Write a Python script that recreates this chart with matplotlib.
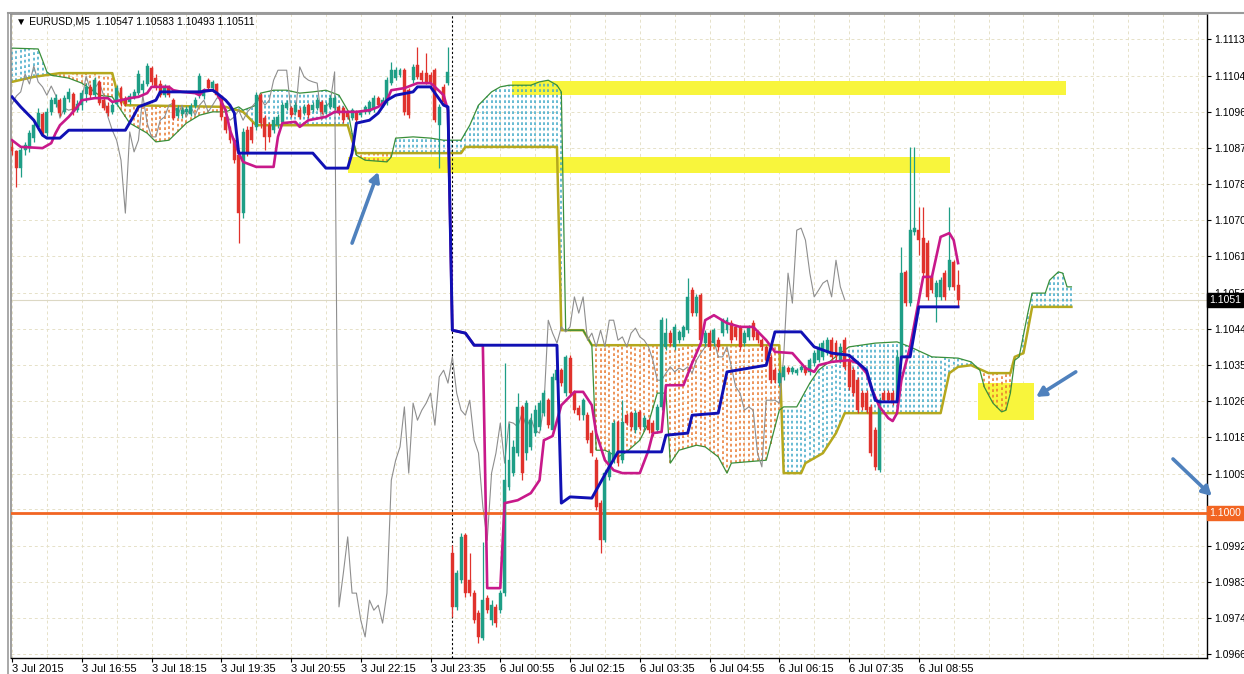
import numpy as np
import matplotlib.pyplot as plt
from matplotlib.patches import Rectangle
from matplotlib.lines import Line2D
from matplotlib.transforms import blended_transform_factory

plt.rcParams['font.family'] = ['Liberation Sans', 'DejaVu Sans']

# EURUSD M5 candles, bar 0 = 3 Jul 15:35 ... bar 217 = 6 Jul 09:40
opens = [1.10878, 1.10868, 1.10827, 1.10871, 1.10875, 1.10899, 1.10926, 1.10957, 1.10911, 1.10962,
         1.10981, 1.10990, 1.10962, 1.10993, 1.11005, 1.10966, 1.10978, 1.11005, 1.11022, 1.11002,
         1.11034, 1.10990, 1.10976, 1.10962, 1.10981, 1.11019, 1.10993, 1.10986, 1.10998, 1.11007,
         1.11014, 1.11029, 1.11067, 1.11043, 1.11029, 1.11002, 1.11022, 1.10990, 1.10952, 1.10957,
         1.10962, 1.10957, 1.10976, 1.11002, 1.11000, 1.11038, 1.11019, 1.11029, 1.11000, 1.10950,
         1.10923, 1.10894, 1.10858, 1.10719, 1.10918, 1.10926, 1.10926, 1.11002, 1.10947, 1.10930,
         1.10918, 1.10930, 1.10938, 1.10971, 1.10971, 1.10962, 1.10966, 1.10959, 1.10978, 1.10966,
         1.10971, 1.10986, 1.10962, 1.10974, 1.10971, 1.10974, 1.10971, 1.10962, 1.10947, 1.10962,
         1.10954, 1.10962, 1.10962, 1.10966, 1.10995, 1.10978, 1.10983, 1.11031, 1.11043, 1.11050,
         1.11062, 1.11014, 1.11038, 1.11074, 1.11055, 1.11055, 1.11050, 1.11062, 1.10930, 1.11022,
         1.11031,
         1.09903, 1.09774, 1.09838, 1.09946, 1.09838, 1.09807, 1.09759, 1.09699, 1.09795,
         1.09742, 1.09774, 1.09766, 1.09807, 1.10062, 1.10095, 1.10143, 1.10254, 1.10143, 1.10158,
         1.10191, 1.10206, 1.10239, 1.10270, 1.10198, 1.10318, 1.10342, 1.10287, 1.10371, 1.10287,
         1.10251, 1.10234, 1.10234, 1.10191, 1.10126, 1.10023, 1.09934, 1.10086, 1.10126, 1.10218,
         1.10126, 1.10234, 1.10239, 1.10198, 1.10242, 1.10206, 1.10222, 1.10215, 1.10198, 1.10254,
         1.10398, 1.10431, 1.10398, 1.10414, 1.10422, 1.10438, 1.10534, 1.10479, 1.10522, 1.10407,
         1.10431, 1.10407, 1.10414, 1.10431, 1.10438, 1.10455, 1.10446, 1.10443, 1.10407, 1.10422,
         1.10455, 1.10434, 1.10414, 1.10398, 1.10374, 1.10342, 1.10311, 1.10326, 1.10347, 1.10338,
         1.10335, 1.10342, 1.10350, 1.10338, 1.10359, 1.10366, 1.10374, 1.10383, 1.10414, 1.10407,
         1.10366, 1.10414, 1.10366, 1.10342, 1.10318, 1.10287, 1.10287, 1.10254, 1.10198, 1.10102,
         1.10287, 1.10287, 1.10287, 1.10263, 1.10374, 1.10578, 1.10503, 1.10674, 1.10678, 1.10659,
         1.10647, 1.10566, 1.10518, 1.10518, 1.10575, 1.10542, 1.10602, 1.10547]
closes = [1.10868, 1.10827, 1.10871, 1.10883, 1.10911, 1.10930, 1.10959, 1.10911, 1.10962, 1.10990,
          1.10995, 1.10959, 1.10995, 1.11010, 1.10962, 1.10981, 1.11007, 1.11022, 1.11002, 1.11038,
          1.10983, 1.10971, 1.10959, 1.10978, 1.11019, 1.10983, 1.10981, 1.11000, 1.11010, 1.11053,
          1.11029, 1.11072, 1.11034, 1.11022, 1.11002, 1.11024, 1.11002, 1.10947, 1.10971, 1.10966,
          1.10969, 1.10976, 1.10990, 1.11048, 1.11014, 1.11019, 1.11034, 1.11002, 1.10950, 1.10918,
          1.10894, 1.10846, 1.10719, 1.10914, 1.10866, 1.10894, 1.11002, 1.10935, 1.10902, 1.10902,
          1.10942, 1.10950, 1.10978, 1.10983, 1.10954, 1.10978, 1.10950, 1.10974, 1.10954, 1.10978,
          1.10990, 1.10962, 1.10978, 1.10995, 1.10995, 1.10959, 1.10942, 1.10950, 1.10966, 1.10942,
          1.10962, 1.10974, 1.10986, 1.10995, 1.10978, 1.10990, 1.11038, 1.11062, 1.11062, 1.11062,
          1.10962, 1.10954, 1.11070, 1.11046, 1.11038, 1.11034, 1.11031, 1.10942, 1.10974, 1.10986,
          1.11058,
          1.09774, 1.09855, 1.09942, 1.09807, 1.09807, 1.09742, 1.09702, 1.09790, 1.09766,
          1.09778, 1.09735, 1.09807, 1.10078, 1.10126, 1.10158, 1.10254, 1.10095, 1.10263, 1.10222,
          1.10246, 1.10263, 1.10287, 1.10210, 1.10326, 1.10342, 1.10311, 1.10374, 1.10287, 1.10246,
          1.10234, 1.10270, 1.10174, 1.10143, 1.10014, 1.09934, 1.10095, 1.10143, 1.10215, 1.10119,
          1.10218, 1.10215, 1.10206, 1.10239, 1.10206, 1.10227, 1.10198, 1.10191, 1.10254, 1.10462,
          1.10431, 1.10407, 1.10446, 1.10434, 1.10446, 1.10518, 1.10479, 1.10518, 1.10414, 1.10431,
          1.10398, 1.10438, 1.10398, 1.10462, 1.10462, 1.10414, 1.10422, 1.10398, 1.10431, 1.10443,
          1.10422, 1.10414, 1.10398, 1.10366, 1.10318, 1.10318, 1.10335, 1.10350, 1.10338, 1.10347,
          1.10342, 1.10350, 1.10335, 1.10366, 1.10383, 1.10398, 1.10407, 1.10414, 1.10374, 1.10374,
          1.10398, 1.10350, 1.10302, 1.10287, 1.10246, 1.10254, 1.10246, 1.10143, 1.10110, 1.10270,
          1.10270, 1.10270, 1.10263, 1.10374, 1.10575, 1.10503, 1.10678, 1.10683, 1.10654, 1.10575,
          1.10518, 1.10534, 1.10551, 1.10558, 1.10518, 1.10606, 1.10542, 1.10511]
highs = [1.10894, 1.10871, 1.10878, 1.10890, 1.10918, 1.10938, 1.10971, 1.10962, 1.10971, 1.10998,
         1.11005, 1.10995, 1.11002, 1.11019, 1.11010, 1.10990, 1.11014, 1.11031, 1.11029, 1.11046,
         1.11038, 1.10998, 1.10986, 1.10986, 1.11026, 1.11024, 1.11000, 1.11007, 1.11017, 1.11062,
         1.11038, 1.11079, 1.11072, 1.11052, 1.11038, 1.11029, 1.11026, 1.10995, 1.10978, 1.10974,
         1.10976, 1.10983, 1.10998, 1.11055, 1.11019, 1.11043, 1.11038, 1.11031, 1.11002, 1.10954,
         1.10928, 1.10899, 1.10871, 1.10923, 1.10928, 1.10938, 1.11010, 1.11007, 1.10954, 1.10938,
         1.10950, 1.10957, 1.10986, 1.10990, 1.10976, 1.10986, 1.10974, 1.10981, 1.10983, 1.10986,
         1.10998, 1.10990, 1.10986, 1.11002, 1.11000, 1.10978, 1.10976, 1.10966, 1.10971, 1.10966,
         1.10966, 1.10978, 1.10990, 1.11002, 1.11000, 1.10998, 1.11046, 1.11082, 1.11070, 1.11067,
         1.11067, 1.11019, 1.11077, 1.11118, 1.11062, 1.11103, 1.11058, 1.11067, 1.10981, 1.11029,
         1.11118,
         1.09922, 1.09862, 1.09951, 1.09951, 1.09903, 1.09814, 1.09766, 1.09930, 1.09802,
         1.09790, 1.09782, 1.09814, 1.10359, 1.10215, 1.10174, 1.10287, 1.10258, 1.10270, 1.10239,
         1.10258, 1.10270, 1.10294, 1.10275, 1.10335, 1.10350, 1.10347, 1.10378, 1.10378, 1.10294,
         1.10258, 1.10275, 1.10242, 1.10198, 1.10134, 1.10030, 1.10102, 1.10150, 1.10222, 1.10222,
         1.10270, 1.10239, 1.10244, 1.10246, 1.10246, 1.10234, 1.10227, 1.10222, 1.10261, 1.10470,
         1.10467, 1.10438, 1.10453, 1.10438, 1.10450, 1.10563, 1.10542, 1.10525, 1.10527, 1.10438,
         1.10438, 1.10443, 1.10422, 1.10467, 1.10470, 1.10462, 1.10450, 1.10450, 1.10438, 1.10450,
         1.10462, 1.10438, 1.10419, 1.10402, 1.10378, 1.10350, 1.10342, 1.10354, 1.10352, 1.10352,
         1.10347, 1.10354, 1.10354, 1.10371, 1.10390, 1.10407, 1.10414, 1.10422, 1.10422, 1.10414,
         1.10407, 1.10422, 1.10374, 1.10350, 1.10326, 1.10294, 1.10294, 1.10261, 1.10206, 1.10278,
         1.10294, 1.10294, 1.10294, 1.10390, 1.10638, 1.10582, 1.10878, 1.10878, 1.10734, 1.10734,
         1.10654, 1.10570, 1.10558, 1.10566, 1.10582, 1.10734, 1.10606, 1.10583]
lows = [1.10858, 1.10782, 1.10806, 1.10858, 1.10866, 1.10890, 1.10918, 1.10904, 1.10904, 1.10954,
        1.10974, 1.10952, 1.10957, 1.10986, 1.10954, 1.10962, 1.10966, 1.10986, 1.10995, 1.10998,
        1.10978, 1.10966, 1.10952, 1.10957, 1.10976, 1.10976, 1.10976, 1.10981, 1.10993, 1.11002,
        1.11005, 1.11024, 1.11026, 1.11014, 1.10998, 1.10998, 1.10998, 1.10942, 1.10947, 1.10947,
        1.10957, 1.10952, 1.10971, 1.10995, 1.10993, 1.11014, 1.11014, 1.10998, 1.10942, 1.10911,
        1.10887, 1.10839, 1.10647, 1.10707, 1.10856, 1.10887, 1.10918, 1.10923, 1.10871, 1.10890,
        1.10911, 1.10923, 1.10933, 1.10966, 1.10950, 1.10957, 1.10945, 1.10954, 1.10947, 1.10962,
        1.10966, 1.10957, 1.10957, 1.10969, 1.10966, 1.10954, 1.10935, 1.10945, 1.10942, 1.10938,
        1.10950, 1.10957, 1.10957, 1.10962, 1.10974, 1.10974, 1.10978, 1.11026, 1.11038, 1.11046,
        1.10954, 1.10947, 1.11031, 1.11041, 1.11034, 1.11029, 1.11026, 1.10938, 1.10827, 1.10981,
        1.11026,
        1.09750, 1.09766, 1.09831, 1.09798, 1.09800, 1.09735, 1.09687, 1.09694, 1.09759,
        1.09730, 1.09726, 1.09759, 1.09800, 1.10054, 1.10088, 1.10136, 1.10078, 1.10126, 1.10150,
        1.10184, 1.10198, 1.10232, 1.10203, 1.10191, 1.10311, 1.10304, 1.10280, 1.10280, 1.10239,
        1.10222, 1.10222, 1.10167, 1.10136, 1.10006, 1.09903, 1.09930, 1.10078, 1.10119, 1.10112,
        1.10119, 1.10210, 1.10198, 1.10191, 1.10198, 1.10198, 1.10191, 1.10184, 1.10191, 1.10246,
        1.10390, 1.10400, 1.10390, 1.10407, 1.10414, 1.10431, 1.10472, 1.10472, 1.10407, 1.10400,
        1.10390, 1.10400, 1.10390, 1.10424, 1.10431, 1.10407, 1.10414, 1.10390, 1.10400, 1.10414,
        1.10414, 1.10407, 1.10390, 1.10359, 1.10311, 1.10311, 1.10304, 1.10318, 1.10333, 1.10333,
        1.10330, 1.10338, 1.10330, 1.10330, 1.10352, 1.10362, 1.10366, 1.10378, 1.10366, 1.10366,
        1.10359, 1.10342, 1.10294, 1.10280, 1.10239, 1.10246, 1.10239, 1.10136, 1.10102, 1.10098,
        1.10266, 1.10266, 1.10258, 1.10256, 1.10366, 1.10496, 1.10496, 1.10666, 1.10618, 1.10568,
        1.10510, 1.10527, 1.10458, 1.10510, 1.10510, 1.10534, 1.10534, 1.10493]

# Ichimoku lines as (bar, price) points
tenkan_bar = [0, 2, 7, 9, 10, 11, 13, 15, 16, 19,
              22, 23, 25, 27, 29, 31, 32, 36, 37, 39,
              42, 43, 44, 46, 47, 49, 50, 52, 53, 56,
              60, 61, 62, 65, 66, 68, 72, 74, 79, 82,
              84, 86, 87, 90, 93, 96, 97, 99, 100, 101,
              104, 106, 108, 109, 112, 113, 116, 119, 121, 122,
              124, 126, 129, 131, 133, 134, 136, 138, 140, 144,
              146, 147, 149, 150, 154, 156, 158, 159, 161, 164,
              167, 170, 173, 175, 179, 182, 184, 185, 188, 192,
              194, 196, 197, 199, 201, 202, 203, 204, 206, 208,
              209, 211, 212, 213, 215, 216, 217]
tenkan_val = [1.10894, 1.10878, 1.10875, 1.10887, 1.10911, 1.10930, 1.10950, 1.10974, 1.10990, 1.10995,
              1.10995, 1.10986, 1.10990, 1.10995, 1.10998, 1.11007, 1.11022, 1.11022, 1.11014, 1.11010,
              1.11007, 1.11002, 1.11014, 1.11014, 1.11007, 1.10966, 1.10918, 1.10863, 1.10842, 1.10830,
              1.10830, 1.10902, 1.10935, 1.10938, 1.10926, 1.10942, 1.10950, 1.10962, 1.10962, 1.10966,
              1.10974, 1.10990, 1.11014, 1.11019, 1.11031, 1.11031, 1.11022, 1.11002, 1.10966, 1.10438,
              1.10431, 1.10402, 1.10402, 1.09819, 1.09819, 1.10023, 1.10030, 1.10047, 1.10078, 1.10174,
              1.10184, 1.10258, 1.10290, 1.10290, 1.10258, 1.10191, 1.10126, 1.10102, 1.10095, 1.10095,
              1.10150, 1.10191, 1.10194, 1.10306, 1.10306, 1.10359, 1.10407, 1.10462, 1.10474, 1.10455,
              1.10446, 1.10446, 1.10414, 1.10386, 1.10383, 1.10347, 1.10338, 1.10354, 1.10362, 1.10366,
              1.10359, 1.10335, 1.10302, 1.10254, 1.10227, 1.10220, 1.10239, 1.10318, 1.10398, 1.10510,
              1.10566, 1.10566, 1.10614, 1.10662, 1.10671, 1.10654, 1.10599]

kijun_bar = [0, 2, 5, 7, 8, 11, 13, 26, 28, 29,
             33, 34, 43, 46, 47, 49, 50, 51, 52, 69,
             71, 72, 77, 78, 79, 82, 84, 86, 88, 92,
             93, 96, 99, 100, 101, 104, 106, 125, 126, 128,
             133, 134, 137, 139, 149, 150, 155, 156, 162, 164,
             173, 175, 181, 184, 188, 192, 196, 198, 199, 203,
             204, 206, 208, 217]
kijun_val = [1.10998, 1.10974, 1.10942, 1.10906, 1.10899, 1.10899, 1.10918, 1.10918, 1.10954, 1.10974,
             1.10990, 1.11010, 1.11010, 1.11014, 1.11007, 1.10990, 1.10978, 1.10959, 1.10863, 1.10863,
             1.10839, 1.10827, 1.10827, 1.10863, 1.10935, 1.10942, 1.10959, 1.10990, 1.11002, 1.11010,
             1.11022, 1.11022, 1.10978, 1.10974, 1.10438, 1.10431, 1.10402, 1.10402, 1.10023, 1.10038,
             1.10035, 1.10054, 1.10110, 1.10146, 1.10146, 1.10186, 1.10191, 1.10234, 1.10239, 1.10338,
             1.10354, 1.10434, 1.10434, 1.10398, 1.10383, 1.10378, 1.10342, 1.10270, 1.10266, 1.10266,
             1.10374, 1.10374, 1.10494, 1.10494]

spana_bar = [0, 6, 7, 8, 9, 13, 16, 20, 23, 25,
             27, 31, 33, 36, 40, 43, 46, 49, 52, 53,
             56, 57, 60, 63, 66, 69, 72, 75, 77, 78,
             79, 81, 86, 87, 88, 92, 96, 99, 103, 105,
             107, 110, 112, 114, 119, 121, 123, 125, 126, 127,
             131, 133, 134, 136, 139, 141, 144, 146, 148, 150,
             151, 153, 157, 159, 162, 164, 165, 173, 176, 177,
             180, 183, 185, 190, 192, 198, 203, 206, 211, 217,
             220, 222, 223, 225, 227, 228, 229, 230, 231, 233,
             234, 237, 238, 240, 241, 242, 243]
spana_val = [1.11115, 1.11113, 1.11086, 1.11058, 1.11050, 1.11043, 1.11031, 1.11002, 1.10998, 1.10966,
             1.10935, 1.10911, 1.10890, 1.10894, 1.10935, 1.10954, 1.10962, 1.10962, 1.10974, 1.10966,
             1.10978, 1.11007, 1.11014, 1.11014, 1.11007, 1.11010, 1.11014, 1.11002, 1.10966, 1.10911,
             1.10858, 1.10846, 1.10842, 1.10854, 1.10899, 1.10902, 1.10899, 1.10894, 1.10894, 1.10930,
             1.10978, 1.11010, 1.11022, 1.11026, 1.11026, 1.11034, 1.11038, 1.11026, 1.11010, 1.10438,
             1.10438, 1.10402, 1.10150, 1.10150, 1.10134, 1.10146, 1.10174, 1.10215, 1.10287, 1.10287,
             1.10119, 1.10150, 1.10162, 1.10158, 1.10134, 1.10095, 1.10119, 1.10126, 1.10246, 1.10254,
             1.10254, 1.10311, 1.10342, 1.10383, 1.10398, 1.10407, 1.10410, 1.10398, 1.10374, 1.10371,
             1.10362, 1.10342, 1.10302, 1.10263, 1.10242, 1.10246, 1.10287, 1.10366, 1.10374, 1.10479,
             1.10527, 1.10527, 1.10558, 1.10578, 1.10575, 1.10542, 1.10542]

spanb_bar = [0, 5, 11, 23, 24, 26, 49, 53, 56, 77,
             78, 79, 103, 104, 125, 126, 131, 133, 176, 177,
             181, 182, 186, 189, 191, 213, 215, 217, 220, 224,
             229, 230, 232, 233, 234, 243]
spanb_val = [1.11034, 1.11046, 1.11055, 1.11055, 1.11014, 1.10978, 1.10974, 1.10962, 1.10930, 1.10930,
             1.10894, 1.10863, 1.10863, 1.10878, 1.10878, 1.10438, 1.10438, 1.10402, 1.10402, 1.10095,
             1.10095, 1.10119, 1.10143, 1.10191, 1.10239, 1.10239, 1.10335, 1.10350, 1.10354, 1.10335,
             1.10335, 1.10374, 1.10383, 1.10438, 1.10494, 1.10494]

chikou_shift = 26

time_bars = list(range(0, 209, 16))
time_labels = ['3 Jul 2015', '3 Jul 16:55', '3 Jul 18:15', '3 Jul 19:35', '3 Jul 20:55',
               '3 Jul 22:15', '3 Jul 23:35', '6 Jul 00:55', '6 Jul 02:15', '6 Jul 03:35',
               '6 Jul 04:55', '6 Jul 06:15', '6 Jul 07:35', '6 Jul 08:55']
price_ticks = [1.11136, 1.11049, 1.10962, 1.10876, 1.10789, 1.10702, 1.10615, 1.10528, 1.10442,
               1.10355, 1.10268, 1.10181, 1.10094, 1.10008, 1.09921, 1.09834, 1.09747, 1.09660]
price_labels = ['1.1113', '1.1104', '1.1096', '1.1087', '1.1078', '1.1070', '1.1061', '1.1052', '1.1044',
                '1.1035', '1.1026', '1.1018', '1.1009', '', '1.0992', '1.0983', '1.0974', '1.0966']
separator_bar = 101
level_price = 1.10000
bid_price = 1.10511

# hand drawn marks: yellow zones and blue arrows
zone_x0 = [114.7, 77.1, 221.6]
zone_x1 = [241.7, 215.1, 234.4]
zone_lo = [1.11002, 1.10815, 1.10222]
zone_hi = [1.11036, 1.10854, 1.10311]
arrow_tail = [(78.0, 1.10647), (244.0, 1.10338), (266.3, 1.10129)]
arrow_head = [(84.0, 1.10818), (234.9, 1.10278), (275.2, 1.10040)]

BULL = '#1e9e86'
BEAR = '#e0322c'

fig = plt.figure(figsize=(12.44, 6.74), dpi=100)
ax = fig.add_axes([11/1244, 16/674, 1196/1244, 644/674])
ax.set_xlim(-0.23, 274.1)
ax.set_ylim(1.096513, 1.111969)

# grid
for p in price_ticks:
    ax.axhline(p, color='#e6e1c8', lw=0.7, ls=(0, (3, 3)), zorder=0.5)
for b in range(0, 275, 8):
    ax.axvline(b, color='#e6e1c8', lw=0.7, ls=(0, (3, 3)), zorder=0.5)

for x0, x1, lo, hi in zip(zone_x0, zone_x1, zone_lo, zone_hi):
    ax.add_patch(Rectangle((x0, lo), x1 - x0, hi - lo, color='#f8f53c', lw=0, zorder=1))

# kumo as dotted vertical lines on every bar
cb = np.arange(0, 244)
sa = np.interp(cb, spana_bar, spana_val)
sb = np.interp(cb, spanb_bar, spanb_val)
up = sa > sb + 1e-6
dn = sb > sa + 1e-6
ax.vlines(cb[up], sb[up], sa[up], colors='#3fa8c8', lw=1.1, linestyles=[(0, (1.8, 1.8))], zorder=1.5)
ax.vlines(cb[dn], sa[dn], sb[dn], colors='#e8782e', lw=1.1, linestyles=[(0, (1.8, 1.8))], zorder=1.5)

ax.plot(spanb_bar, spanb_val, color='#b5a81e', lw=1.8, zorder=2)
ax.plot(spana_bar, spana_val, color='#3a8f3a', lw=0.9, zorder=2)

ax.axvline(separator_bar, color='black', lw=0.8, ls=(0, (2, 2)), zorder=2)
ax.axhline(bid_price, color='#dcd8c4', lw=0.8, zorder=1.2)
ax.axhline(level_price, color='#f26522', lw=2, zorder=2.6)

# chikou = close moved back 26 bars
o = np.array(opens)
c = np.array(closes)
h = np.array(highs)
lo_ = np.array(lows)
bars = np.arange(len(o))
ax.plot(bars[chikou_shift:] - chikou_shift, c[chikou_shift:], color='#8e8e8e', lw=0.8, zorder=2.2)

# candles
cols = np.where(c >= o, BULL, BEAR)
ax.vlines(bars, lo_, h, colors=cols, lw=0.9, zorder=3)
ax.bar(bars, np.abs(c - o), bottom=np.minimum(o, c), width=0.68, color=cols,
       edgecolor=cols, lw=0.3, zorder=3.1)

ax.plot(tenkan_bar, tenkan_val, color='#c8198a', lw=1.9, zorder=4)
ax.plot(kijun_bar, kijun_val, color='#1010b4', lw=2.1, zorder=4.1)

for (tx, ty), (hx, hy) in zip(arrow_tail, arrow_head):
    ax.annotate('', xy=(hx, hy), xytext=(tx, ty), annotation_clip=False, zorder=6,
                arrowprops=dict(arrowstyle='-|>,head_length=0.55,head_width=0.3',
                                color='#4f81bd', lw=2.6, shrinkA=0, shrinkB=0))

# axes look
ax.yaxis.tick_right()
ax.set_yticks(price_ticks, price_labels)
ax.set_xticks(time_bars, time_labels, ha='left')
ax.tick_params(axis='y', length=3, width=0.8, pad=2, labelsize=7.5, colors='black')
ax.tick_params(axis='x', length=3, width=0.8, pad=1.5, labelsize=8)
for s in ['right', 'bottom']:
    ax.spines[s].set_color('black')
    ax.spines[s].set_linewidth(1)
for s in ['left', 'top']:
    ax.spines[s].set_color('#8c8c8c')
    ax.spines[s].set_linewidth(1.2)

tr = blended_transform_factory(ax.transAxes, ax.transData)
ax.text(1.0015, bid_price, '1.1051', transform=tr, ha='left', va='center', fontsize=7.5,
        color='white', clip_on=False, zorder=7,
        bbox=dict(boxstyle='square,pad=0.2', fc='black', ec='black'))
ax.text(1.0015, level_price, '1.1000', transform=tr, ha='left', va='center', fontsize=7.5,
        color='white', clip_on=False, zorder=7,
        bbox=dict(boxstyle='square,pad=0.2', fc='#f26522', ec='#f26522'))

ax.text(0.004, 0.9876, '\u25bc EURUSD,M5  1.10547 1.10583 1.10493 1.10511', transform=ax.transAxes,
        ha='left', va='center', fontsize=7.5, color='black', zorder=7)

fig.add_artist(Line2D([8/1244, 1], [1 - 13/674, 1 - 13/674], transform=fig.transFigure,
                      color='#9a9a9a', lw=1.5))
fig.add_artist(Line2D([8/1244, 8/1244], [0, 1 - 13/674], transform=fig.transFigure,
                      color='#9a9a9a', lw=1.2))

fig.savefig('out.png', dpi=100, facecolor='white')
